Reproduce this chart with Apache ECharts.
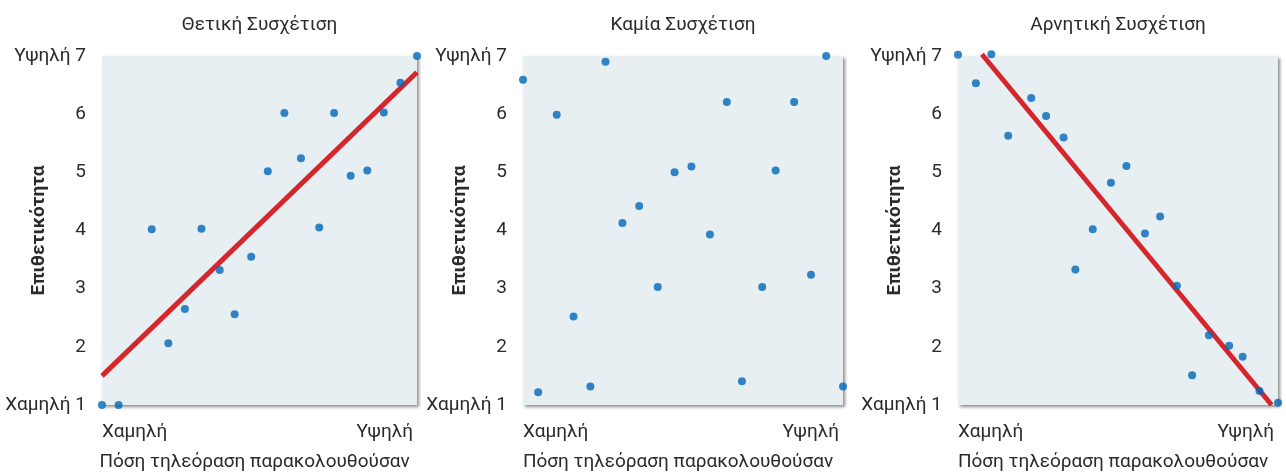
<!DOCTYPE html>
<html>
<head>
<meta charset="utf-8">
<script src="https://cdn.jsdelivr.net/npm/echarts@6/dist/echarts.min.js"></script>
<style>
html,body{margin:0;padding:0;background:#fff;}
#chart{width:1286px;height:473px;}
</style>
</head>
<body>
<div id="chart"></div>
<script>
// ---- data ----
const panelTitles = ['Θετική Συσχέτιση', 'Καμία Συσχέτιση', 'Αρνητική Συσχέτιση'];
const yAxisName = 'Επιθετικότητα';
const xAxisName = 'Πόση τηλεόραση παρακολουθούσαν';
const xTickLabels = ['Χαμηλή', 'Υψηλή'];
const yTickHigh = 'Υψηλή';
const yTickLow = 'Χαμηλή';

const positiveX = [0, 1, 3, 4, 5, 6, 7.1, 8, 9, 10, 11, 12, 13.1, 14, 15, 16, 17, 18, 19];
const positiveY = [1.0, 1.0, 4.02, 2.06, 2.65, 4.03, 3.32, 2.56, 3.55, 5.02, 6.02, 5.24, 4.05, 6.02, 4.94, 5.03, 6.03, 6.54, 7.0];
const positiveTrendX = [0, 19];
const positiveTrendY = [1.5, 6.72];

const noneX = [0, 0.9, 2, 3, 4, 4.9, 5.9, 6.9, 8, 9, 10, 11.1, 12.1, 13, 14.2, 15, 16.1, 17.1, 18, 19];
const noneY = [6.59, 1.22, 5.99, 2.52, 1.32, 6.9, 4.13, 4.42, 3.03, 5.0, 5.1, 3.93, 6.21, 1.41, 3.03, 5.03, 6.21, 3.24, 7.0, 1.32];

const negativeX = [0, 1.06, 1.98, 2.98, 4.35, 5.23, 6.27, 6.97, 8.0, 9.08, 10.0, 11.1, 12.0, 13.0, 13.9, 14.9, 16.1, 16.9, 17.9, 19.0];
const negativeY = [7.02, 6.53, 7.03, 5.63, 6.28, 5.97, 5.6, 3.33, 4.02, 4.82, 5.11, 3.95, 4.24, 3.05, 1.51, 2.2, 2.02, 1.83, 1.24, 1.04];
const negativeTrendX = [1.42, 18.62];
const negativeTrendY = [7.03, 1.0];

// ---- chart ----
const FONT = 'Roboto, "Open Sans", sans-serif';
const TEXT = '#2b2b2b';
const BLUE = '#0068b8';
const RED = '#d5262c';
const FS = 19;

function zip(xs, ys) { return xs.map((x, i) => [x, ys[i]]); }

const grids = [
  { left: 102, width: 315 },
  { left: 523, width: 320 },
  { left: 958, width: 320 }
].map(g => ({
  left: g.left, width: g.width, top: 56, bottom: 68,
  outerBoundsMode: 'none', containLabel: false,
  show: true, backgroundColor: '#e8eff3', borderWidth: 0,
  shadowColor: 'rgba(0,0,0,0.45)', shadowBlur: 3, shadowOffsetX: 2, shadowOffsetY: 2
}));

const xAxes = grids.map((g, i) => ({
  type: 'value', gridIndex: i, min: 0, max: 19, interval: 19,
  axisLine: { show: false }, axisTick: { show: false }, splitLine: { show: false },
  axisLabel: {
    color: TEXT, fontFamily: FONT, fontSize: FS, margin: 18,
    alignMinLabel: 'left', alignMaxLabel: 'right',
    formatter: v => (v === 0 ? xTickLabels[0] : '{r|' + xTickLabels[1] + '}'),
    rich: { r: { color: TEXT, fontFamily: FONT, fontSize: FS, padding: [0, 4, 0, 0] } }
  },
  name: xAxisName, nameLocation: 'middle', nameGap: 48, nameMoveOverlap: false,
  nameTextStyle: { color: TEXT, fontFamily: FONT, fontSize: FS, padding: [0, 10, 0, 0] }
}));

const yAxes = grids.map((g, i) => ({
  type: 'value', gridIndex: i, min: 1, max: 7, interval: 1,
  axisLine: { show: false }, axisTick: { show: false }, splitLine: { show: false },
  axisLabel: {
    color: TEXT, fontFamily: FONT, fontSize: FS, margin: 16,
    formatter: v => (v === 7 ? yTickHigh + ' 7' : v === 1 ? yTickLow + ' 1' : String(v))
  },
  name: yAxisName, nameLocation: 'middle', nameGap: 53, nameRotate: 90, nameMoveOverlap: false,
  nameTextStyle: { color: TEXT, fontFamily: FONT, fontSize: FS, fontWeight: 'bold' }
}));

const titles = panelTitles.map((t, i) => ({
  text: t,
  left: grids[i].left + grids[i].width / 2,
  top: 16,
  padding: 0,
  textAlign: 'center',
  textStyle: { color: TEXT, fontFamily: FONT, fontSize: FS, fontWeight: 'normal' }
}));

function scatter(i, xs, ys) {
  return {
    type: 'scatter', xAxisIndex: i, yAxisIndex: i, data: zip(xs, ys),
    symbolSize: 8, clip: false, itemStyle: { color: BLUE }, z: 3
  };
}
function trend(i, xs, ys) {
  return {
    type: 'line', xAxisIndex: i, yAxisIndex: i, data: zip(xs, ys),
    symbol: 'none', clip: false, lineStyle: { color: RED, width: 5 }, z: 2
  };
}

const chart = echarts.init(document.getElementById('chart'), null, { renderer: 'canvas' });
chart.setOption({
  animation: false,
  title: titles,
  grid: grids,
  xAxis: xAxes,
  yAxis: yAxes,
  series: [
    trend(0, positiveTrendX, positiveTrendY),
    scatter(0, positiveX, positiveY),
    scatter(1, noneX, noneY),
    trend(2, negativeTrendX, negativeTrendY),
    scatter(2, negativeX, negativeY)
  ]
});
</script>
</body>
</html>
